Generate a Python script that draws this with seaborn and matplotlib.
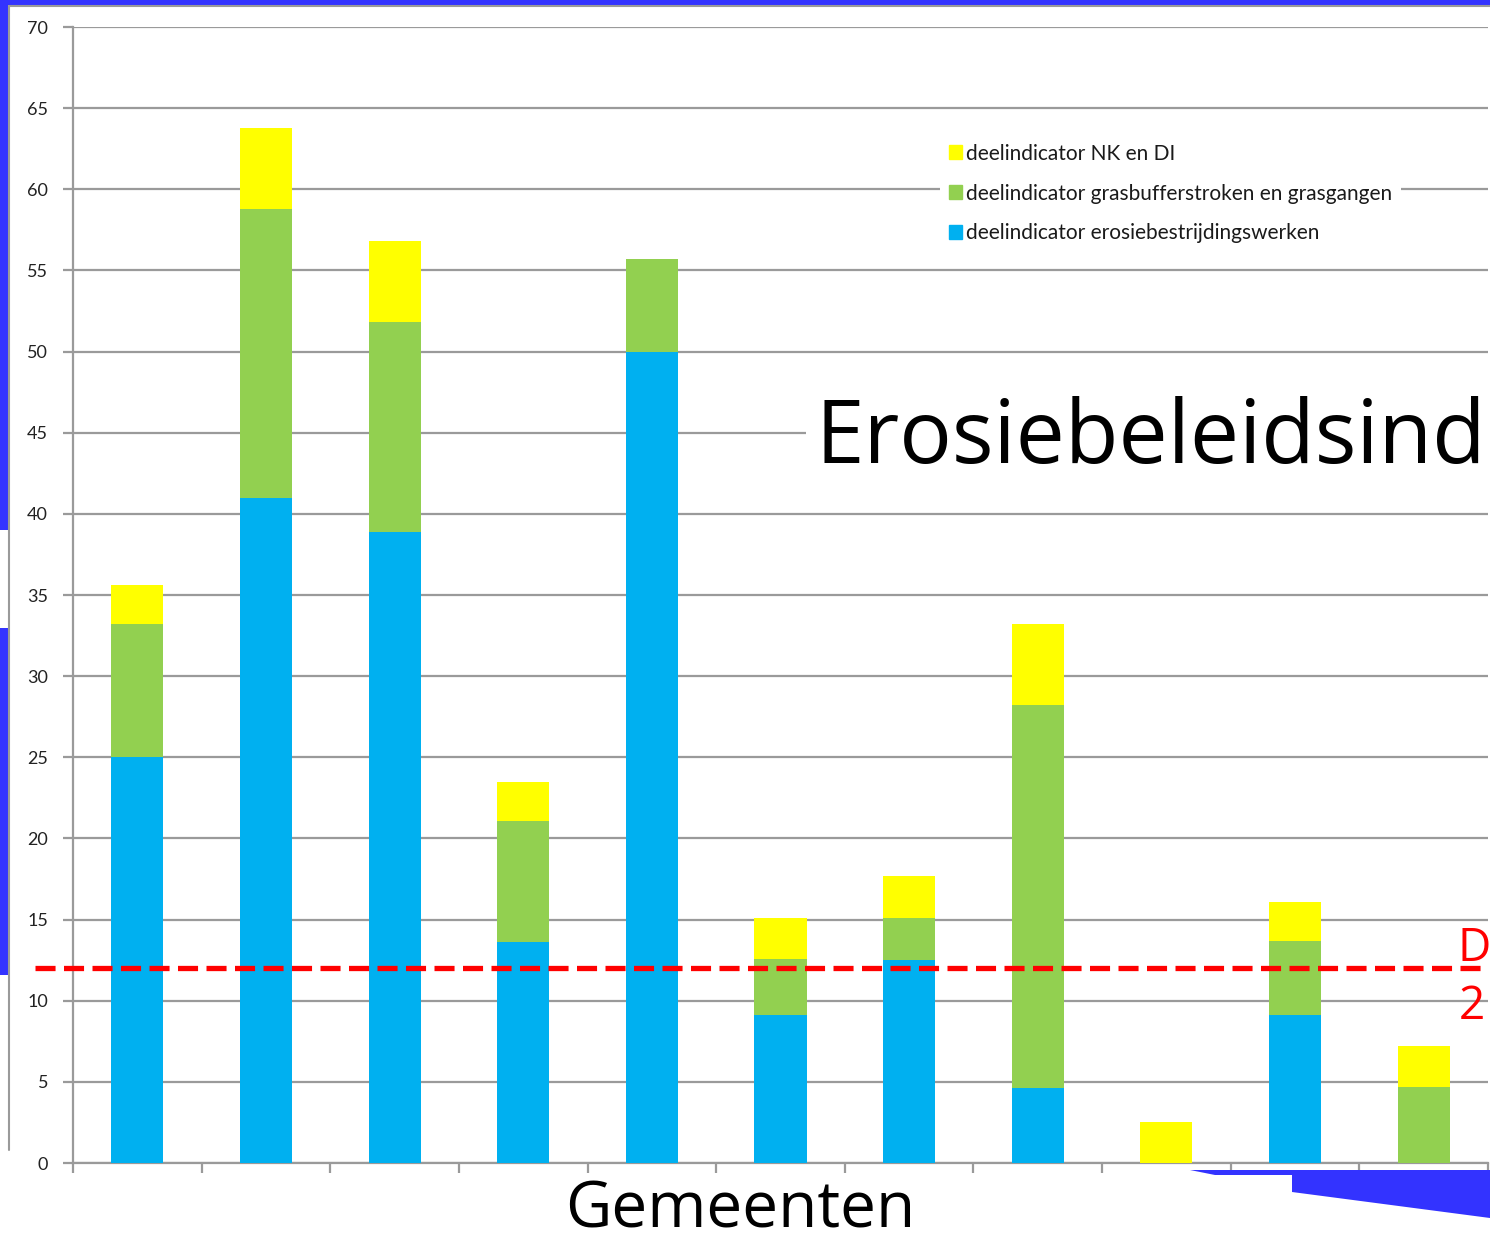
import matplotlib
matplotlib.use("Agg")
import matplotlib.pyplot as plt
import matplotlib.patches as mpatches
import seaborn as sns
import pandas as pd
import numpy as np

# ---- data ----
gemeenten = ["G1", "G2", "G3", "G4", "G5", "G6", "G7", "G8", "G9", "G10", "G11"]
erosiebestrijding = [25.0, 41.0, 38.9, 13.6, 50.0, 9.1, 12.5, 4.6, 0.0, 9.1, 0.0]
grasbuffer = [8.2, 17.8, 12.9, 7.5, 5.7, 3.5, 2.6, 23.6, 0.0, 4.6, 4.7]
nk_di = [2.4, 5.0, 5.0, 2.4, 0.0, 2.5, 2.6, 5.0, 2.5, 2.4, 2.5]
doel = 12.0

lbl_yellow = "deelindicator NK en DI"
lbl_green = "deelindicator grasbufferstroken en grasgangen"
lbl_blue = "deelindicator erosiebestrijdingswerken"

c_blue = "#00B0F0"
c_green = "#92D050"
c_yellow = "#FFFF00"

df = pd.DataFrame({"gemeente": gemeenten,
                   "blue": erosiebestrijding,
                   "green": grasbuffer,
                   "yellow": nk_di})
df["lvl2"] = df["blue"] + df["green"]
df["lvl3"] = df["lvl2"] + df["yellow"]

sns.set_style("white")
plt.rcParams["font.family"] = ["Lato", "DejaVu Sans"]

W, H = 1490, 1244
fig = plt.figure(figsize=(W / 100, H / 100), dpi=100)
fig.patch.set_facecolor("white")

ax = fig.add_axes([73 / W, 1 - 1163 / H, (1488 - 73) / W, (1163 - 27) / H])

bw = 0.405
sns.barplot(data=df, x="gemeente", y="lvl3", color=c_yellow, width=bw,
            saturation=1, ax=ax, zorder=3)
sns.barplot(data=df, x="gemeente", y="lvl2", color=c_green, width=bw,
            saturation=1, ax=ax, zorder=3)
sns.barplot(data=df, x="gemeente", y="blue", color=c_blue, width=bw,
            saturation=1, ax=ax, zorder=3)
for p in ax.patches:
    p.set_edgecolor("none")
    p.set_zorder(3)

n = len(gemeenten)
ax.set_xlim(-0.5, n - 0.5)
ax.set_ylim(0, 70)
ax.set_yticks(np.arange(0, 71, 5))
ax.set_xticks(np.arange(-0.5, n, 1.0))
ax.set_xticklabels([])
ax.set_xlabel("")
ax.set_ylabel("")

ax.grid(axis="y", color="#9a9a9a", linewidth=1.6, zorder=0)
ax.set_axisbelow(True)
for s in ["top", "right"]:
    ax.spines[s].set_visible(False)
for s in ["left", "bottom"]:
    ax.spines[s].set_color("#9a9a9a")
    ax.spines[s].set_linewidth(1.6)
ax.tick_params(axis="y", direction="out", length=7, width=1.6, color="#9a9a9a",
               labelsize=13, labelcolor="#222222", pad=11, left=True)
ax.tick_params(axis="x", direction="out", length=7, width=1.6, color="#9a9a9a",
               bottom=True)

# legend
handles = [mpatches.Patch(color=c_yellow, label=lbl_yellow),
           mpatches.Patch(color=c_green, label=lbl_green),
           mpatches.Patch(color=c_blue, label=lbl_blue)]
leg = fig.legend(handles=handles, loc="upper left",
                 bbox_to_anchor=(930 / W, 1 - 125 / H),
                 frameon=True, facecolor="white", edgecolor="none", framealpha=1,
                 fontsize=15, handlelength=0.65, handleheight=0.65,
                 handletextpad=0.2, labelspacing=0.95, borderpad=0.4)
for t in leg.get_texts():
    t.set_color("#1a1a1a")

# target line
ax.plot([-0.027, 1.0], [doel, doel], transform=ax.get_yaxis_transform(),
        color="#FF0000", linewidth=3.8, linestyle=(0, (3.8, 1.6)),
        clip_on=False, zorder=6)

# overlay texts
fig.text(815 / W, 1 - 463 / H, "Erosiebeleidsind", fontsize=63,
         family=["Open Sans", "DejaVu Sans"], color="black", ha="left",
         va="baseline",
         bbox=dict(facecolor="white", edgecolor="none", pad=6))
fig.text(565 / W, 2 / H, "Gemeenten", fontsize=46,
         family=["Open Sans", "DejaVu Sans"], color="black", ha="left",
         va="bottom")
fig.text(1457 / W, 1 - 961 / H, "D", fontsize=33,
         family=["Open Sans", "DejaVu Sans"], color="#FF0000", ha="left",
         va="baseline")
fig.text(1459 / W, 1 - 1019 / H, "2", fontsize=33,
         family=["Open Sans", "DejaVu Sans"], color="#FF0000", ha="left",
         va="baseline")

# slide decorations
fig.patches.append(mpatches.Rectangle((0, 1 - 5 / H), 1, 5 / H,
                                      transform=fig.transFigure,
                                      facecolor="#3333FF", edgecolor="none"))
fig.patches.append(mpatches.Rectangle((0, 1 - 530 / H), 8 / W, 530 / H,
                                      transform=fig.transFigure,
                                      facecolor="#3333FF", edgecolor="none"))
fig.patches.append(mpatches.Rectangle((0, 1 - 975 / H), 8 / W, (975 - 628) / H,
                                      transform=fig.transFigure,
                                      facecolor="#3333FF", edgecolor="none"))
fig.lines.append(plt.Line2D([9 / W, 9 / W], [1 - 6 / H, 1 - 1150 / H],
                            transform=fig.transFigure, color="#9a9a9a",
                            linewidth=1.5))
fig.lines.append(plt.Line2D([9 / W, 1], [1 - 6 / H, 1 - 6 / H],
                            transform=fig.transFigure, color="#9a9a9a",
                            linewidth=1.5))
poly = mpatches.Polygon([(1190 / W, 1 - 1170 / H), (1, 1 - 1170 / H),
                         (1, 1 - 1218 / H), (1292 / W, 1 - 1192 / H),
                         (1292 / W, 1 - 1175 / H), (1215 / W, 1 - 1175 / H)],
                        closed=True, transform=fig.transFigure,
                        facecolor="#3333FF", edgecolor="none")
fig.patches.append(poly)

fig.savefig("out.png", dpi=100, facecolor="white")
